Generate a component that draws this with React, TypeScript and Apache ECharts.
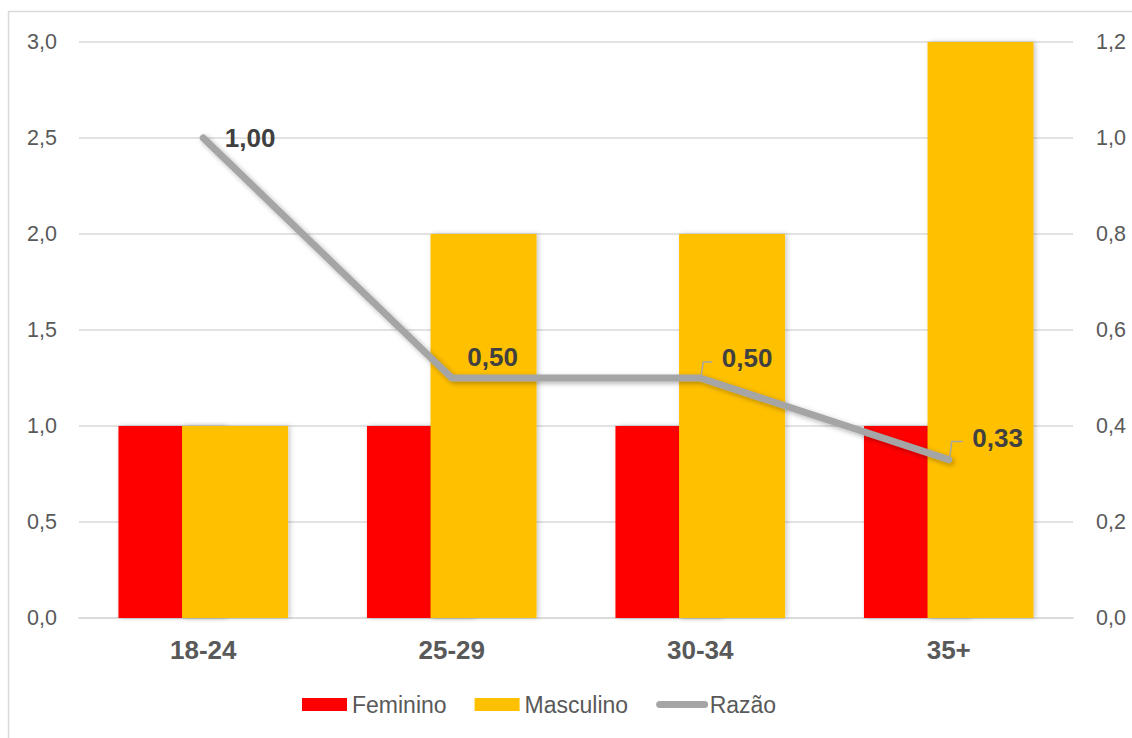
import React, { useEffect, useRef } from "react";
import * as echarts from "echarts";

// Faixas etárias e valores
const categories = ["18-24", "25-29", "30-34", "35+"];
const feminino = [1, 1, 1, 1];
const masculino = [1, 2, 2, 3];
const razao = [1.0, 0.5, 0.5, 0.33];

// Ticks dos eixos
const leftTicks = { min: 0, max: 3, interval: 0.5 };
const rightTicks = { min: 0, max: 1.2, interval: 0.2 };

// Deslocamento dos rótulos da razão (px) e quais pontos levam linha-guia
const razaoLabelOffsets: [number, number][] = [
  [21, 0],
  [15, -21],
  [21, -20],
  [23, -22],
];
const razaoLeader = [false, false, true, true];

const TEXT = "#595959";
const GRID = "#d9d9d9";
const FONT = "'Liberation Sans', Arial, sans-serif";

const comma = (v: number, d: number) => v.toFixed(d).replace(".", ",");

export default function App() {
  const ref = useRef<HTMLDivElement>(null);

  useEffect(() => {
    if (!ref.current) return;
    const chart = echarts.init(ref.current, null, { renderer: "svg" });

    const barShadow = {
      shadowColor: "rgba(0,0,0,0.22)",
      shadowBlur: 5,
      shadowOffsetX: 2,
      shadowOffsetY: 0,
    };

    chart.setOption({
      animation: false,
      backgroundColor: "#fff",
      textStyle: { fontFamily: FONT },
      grid: { left: 79, right: 59, top: 42, bottom: 120, containLabel: false },
      legend: {
        left: 302,
        top: 693,
        padding: 0,
        itemWidth: 45,
        itemHeight: 13,
        itemGap: 28,
        textStyle: { color: TEXT, fontSize: 23, fontFamily: FONT },
        data: [
          { name: "Feminino", icon: "rect" },
          { name: "Masculino", icon: "rect" },
          {
            name: "Razão",
            itemStyle: { opacity: 0 },
            lineStyle: { width: 7, cap: "round", color: "#a5a5a5" },
          },
        ],
      },
      xAxis: {
        type: "category",
        data: categories,
        axisTick: { show: false },
        axisLine: { lineStyle: { color: GRID, width: 1.5 } },
        axisLabel: {
          color: TEXT,
          fontSize: 26,
          fontWeight: "bold",
          margin: 19,
          fontFamily: FONT,
        },
      },
      yAxis: [
        {
          type: "value",
          ...leftTicks,
          axisLine: { show: false },
          axisTick: { show: false },
          splitLine: { lineStyle: { color: GRID, width: 1.5 } },
          axisLabel: {
            color: TEXT,
            fontSize: 21.5,
            margin: 22,
            fontFamily: FONT,
            formatter: (v: number) => comma(v, 1),
          },
        },
        {
          type: "value",
          ...rightTicks,
          axisLine: { show: false },
          axisTick: { show: false },
          splitLine: { show: false },
          axisLabel: {
            color: TEXT,
            fontSize: 21.5,
            margin: 23,
            fontFamily: FONT,
            formatter: (v: number) => comma(v, 1),
          },
        },
      ],
      series: [
        {
          name: "Feminino",
          type: "bar",
          data: feminino,
          barWidth: 106,
          barGap: "-40%",
          itemStyle: { color: "#ff0000", ...barShadow },
        },
        {
          name: "Masculino",
          type: "bar",
          data: masculino,
          barWidth: 106,
          itemStyle: { color: "#ffc000", ...barShadow },
        },
        {
          name: "Razão",
          type: "line",
          yAxisIndex: 1,
          symbol: "circle",
          symbolSize: 1,
          z: 5,
          itemStyle: { color: "#a5a5a5" },
          lineStyle: {
            color: "#a5a5a5",
            width: 7,
            cap: "round",
            join: "round",
            shadowColor: "rgba(0,0,0,0.3)",
            shadowBlur: 5,
            shadowOffsetX: 2,
            shadowOffsetY: 2,
          },
          data: razao.map((v, i) => ({
            value: v,
            label: { offset: razaoLabelOffsets[i] },
          })),
          label: {
            show: true,
            position: "right",
            distance: 0,
            color: "#404040",
            fontSize: 26,
            fontWeight: "bold",
            fontFamily: FONT,
            formatter: (p: any) => comma(p.value as number, 2),
          },
        },
      ],
    });

    // Moldura e linhas-guia dos rótulos, posicionadas pelas escalas do gráfico
    const leaders: any[] = [];
    razao.forEach((v, i) => {
      if (!razaoLeader[i]) return;
      const [px, py] = chart.convertToPixel(
        { xAxisIndex: 0, yAxisIndex: 1 },
        [categories[i], v]
      ) as number[];
      const [ox, oy] = razaoLabelOffsets[i];
      const topY = py + oy + 4;
      leaders.push({
        type: "polyline",
        z: 10,
        shape: {
          points: [
            [px + 1, py - 3],
            [px + 3, topY],
            [px + ox - 9, topY],
          ],
        },
        style: { stroke: "#a5a5a5", lineWidth: 1.5, fill: "none" },
      });
    });

    chart.setOption({
      graphic: [
        {
          type: "rect",
          shape: { x: 8.5, y: 11.5, width: 1200, height: 800 },
          style: { fill: "none", stroke: GRID, lineWidth: 1.5 },
          silent: true,
        },
        ...leaders,
      ],
    });

    return () => chart.dispose();
  }, []);

  return (
    <div
      ref={ref}
      style={{ position: "fixed", left: 0, top: 0, width: 1132, height: 738 }}
    />
  );
}
